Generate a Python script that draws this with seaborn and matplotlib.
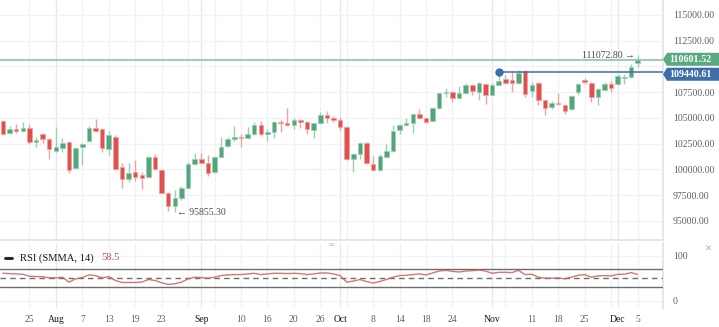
import matplotlib
matplotlib.use("Agg")
import numpy as np
import pandas as pd
import matplotlib.pyplot as plt
import seaborn as sns
from matplotlib.patches import Polygon
from matplotlib.lines import Line2D
from matplotlib.transforms import IdentityTransform

# ---- daily candles -------------------------------------------------------
opens = [104680, 103515, 103930, 103710, 104060, 102700, 103475, 102930, 101825, 102115,
         102670, 100145, 102155, 102735, 104060, 103930, 101960, 103185, 100215, 99075,
         99785, 99435, 99240, 101185, 99950, 97690, 96455, 97260, 98230, 100505,
         101050, 100660, 99725, 101240, 102250, 102960, 103185, 103030, 103475, 104320,
         103475, 103670, 104640, 104515, 104320, 104775, 104580, 103835, 104485, 105290,
         105030, 104775, 104095, 100990, 101535, 102570, 100560, 99950, 101240, 101795,
         103835, 104320, 104485, 105360, 105000, 104710, 106000, 107400, 107555, 106970,
         107400, 108205, 107555, 108330, 107230, 108205, 108785, 108690, 108370, 109560,
         107650, 108425, 106745, 106095, 106485, 106230, 105845, 107495, 108720, 108425,
         107065, 107720, 108270, 108270, 108910, 108950, 110310]
highs = [104805, 104225, 104415, 104610, 104415, 103155, 103545, 103060, 104095, 103060,
         102765, 102185, 102570, 104250, 104900, 104030, 103765, 103350, 100600, 100600,
         100920, 99785, 101310, 101535, 100050, 97815, 98010, 98395, 100725, 101570,
         101630, 101405, 101310, 103185, 103185, 104225, 103445, 104125, 104580, 104710,
         103960, 104660, 104835, 106000, 105030, 104855, 104660, 104560, 105555, 105680,
         105165, 105095, 104175, 101600, 102670, 102670, 101280, 101475, 102475, 104320,
         104415, 105030, 105435, 105875, 105095, 106095, 107475, 107885, 107620, 108105,
         108370, 108300, 108495, 108400, 108425, 109440.61, 109175, 109600, 109640, 109640,
         108465, 108495, 106795, 106650, 107455, 106360, 107230, 108350, 108910, 108495,
         107910, 108465, 108590, 109240, 109300, 110215, 111072.80]
lows = [103350, 103445, 103545, 103640, 102475, 102215, 102600, 101050, 101745, 101700,
        99630, 100050, 100465, 102670, 103640, 101670, 101435, 99950, 98230, 98815,
        98910, 98075, 99175, 99950, 97690, 96000, 95855.30, 97040, 98205, 100435,
        100580, 99395, 99660, 101165, 102185, 102765, 102215, 102960, 103395, 103280,
        102765, 103085, 103670, 104225, 103900, 104000, 103445, 103030, 104415, 104485,
        104580, 103835, 100890, 99785, 100990, 100535, 99900, 99900, 101165, 101745,
        103475, 104225, 103570, 104950, 104485, 104660, 105920, 107065, 106580, 106895,
        107330, 107260, 106745, 106360, 107185, 108155, 108300, 107495, 108300, 107065,
        107065, 106260, 105290, 105845, 106260, 105390, 105775, 107230, 108300, 106525,
        106260, 107670, 107555, 108205, 108270, 108885, 109980]
closes = [103445, 103930, 103735, 104060, 102700, 102865, 102960, 101990, 102155, 102570,
          99950, 102060, 102445, 104060, 103765, 102060, 103380, 100020, 99050, 99690,
          99270, 99175, 101185, 100050, 97745, 96455, 97260, 98230, 100505, 101050,
          100660, 99690, 101185, 102215, 102930, 103185, 103030, 103445, 104320, 103445,
          103610, 104580, 104545, 104320, 104775, 104640, 103900, 104485, 105290, 105030,
          104805, 104095, 100990, 101505, 102570, 100600, 99950, 101280, 101795, 103765,
          104320, 104485, 105360, 105030, 104610, 105940, 107400, 107555, 106970, 107400,
          108205, 107590, 108425, 107230, 108205, 108620, 108370, 108370, 109400, 107300,
          108205, 106745, 106000, 106485, 106330, 105680, 107165, 108270, 108465, 107065,
          107815, 108270, 107940, 109075, 109010, 109980, 110601.52]

# RSI (SMMA, 14) per candle
rsi = [60.9, 60.2, 59.5, 58.7, 54.4, 53.6, 53.6, 50.7, 50.7, 52.2,
       41.3, 48.5, 51.5, 57.3, 55.8, 50.7, 53.6, 44.9, 40.5, 40.5,
       40.5, 41.3, 47.1, 44.9, 39.8, 36.2, 37.6, 41.3, 48.5, 52.2,
       51.5, 50.0, 52.2, 55.8, 57.3, 58.0, 58.0, 59.5, 60.9, 58.0,
       59.5, 60.9, 60.9, 60.2, 60.9, 60.2, 58.0, 59.5, 61.6, 61.6,
       59.5, 55.8, 41.3, 43.5, 47.1, 42.7, 39.1, 42.7, 47.1, 52.2,
       55.8, 56.5, 58.0, 59.5, 57.3, 61.6, 66.0, 67.4, 65.3, 63.8,
       66.0, 66.7, 68.2, 66.0, 60.9, 63.1, 63.1, 62.4, 67.4, 58.0,
       58.7, 52.2, 50.0, 50.0, 50.7, 48.5, 52.2, 56.5, 58.0, 52.2,
       55.1, 55.8, 55.1, 58.7, 58.7, 62.4, 58.5]

# date axis: candle index of each labelled day, plus unlabelled grid days
tick_pos = [4, 8, 12, 16, 20, 24, 30, 36, 40, 44, 48, 51, 56, 60, 64, 68, 74, 80, 84, 88, 93, 96]
tick_labels = ["25", "Aug", "7", "13", "19", "23", "Sep", "10", "16", "20", "26", "Oct",
               "8", "14", "18", "24", "Nov", "11", "18", "25", "Dec", "5"]
month_names = ["Aug", "Sep", "Oct", "Nov", "Dec"]
extra_grid = [28, 32, 52, 76, 92]

price_grid = [95000, 97500, 100000, 102500, 105000, 107500, 110000, 112500, 115000]
hidden_price_labels = [110000]
rsi_ticks = [0, 100]
rsi_bands = [30, 50, 70]
rsi_name = "RSI (SMMA, 14)"

# ---- styling -----------------------------------------------------------------
UP, DOWN = "#53a57c", "#e0504d"
UP_LIGHT, DOWN_LIGHT = "#9dcfb4", "#efa3a1"
LAST_COLOR, HIGH_LINE = "#5aa981", "#3d6ea8"
GRID, GRID_MONTH = "#f0f2f5", "#e6e8ec"
TEXT_GRAY, TEXT_DARK = "#5f5f5f", "#131722"

sns.set_theme(style="white")
plt.rcParams["font.family"] = ["Liberation Serif", "DejaVu Sans"]

W, H, DPI = 719, 327, 100
fig = plt.figure(figsize=(W / DPI, H / DPI), dpi=DPI)
fig.patch.set_facecolor("white")


def rect(x0, y0, x1, y1):
    return [x0 / W, 1 - y1 / H, (x1 - x0) / W, (y1 - y0) / H]


ax = fig.add_axes(rect(0, 0, 663, 240))
axr = fig.add_axes(rect(0, 243, 663, 308), sharex=ax)

df = pd.DataFrame({"open": opens, "high": highs, "low": lows, "close": closes})
df["idx"] = np.arange(len(df))
up = df["close"] >= df["open"]

# wicks and bodies
ax.vlines(df["idx"], df["low"], df["high"],
          colors=np.where(up, UP_LIGHT, DOWN_LIGHT), linewidth=1.0, zorder=2)
body_low = df[["open", "close"]].min(axis=1)
body_h = (df["close"] - df["open"]).abs().clip(lower=70)
ax.bar(df["idx"], body_h, bottom=body_low, width=0.68,
       color=np.where(up, UP, DOWN), edgecolor=np.where(up, UP_LIGHT, DOWN_LIGHT),
       linewidth=0.6, zorder=3)

ax.set_xlim(-0.45, 99.85)
ax.set_ylim(93154, 116456)

# grid
month_pos = [tick_pos[tick_labels.index(m)] for m in month_names]
for x in tick_pos + extra_grid:
    for a in (ax, axr):
        a.axvline(x, color=GRID_MONTH if x in month_pos else GRID, lw=1, zorder=0)
for p in price_grid:
    ax.axhline(p, color=GRID, lw=1, zorder=0)

ax.yaxis.tick_right()
ax.set_yticks(price_grid)
ax.set_yticklabels(["" if p in hidden_price_labels else f"{p:.2f}" for p in price_grid])
ax.tick_params(axis="y", length=0, pad=7, labelsize=7.0, labelcolor=TEXT_GRAY)
ax.tick_params(axis="x", bottom=False, labelbottom=False)
for side in ("top", "left"):
    ax.spines[side].set_visible(False)
ax.spines["right"].set_color("#e0e3eb")
ax.spines["bottom"].set_color("#e0e3eb")

# last price line and the ray from the marked high
last_close = df["close"].iloc[-1]
ax.axhline(last_close, color="#7cc39e", lw=1.1, zorder=4)
ray_idx = 75
ray_val = df["high"].iloc[ray_idx]
ax.hlines(ray_val, ray_idx, ax.get_xlim()[1], color=HIGH_LINE, lw=1.1, zorder=4)
ax.plot([ray_idx], [ray_val], "o", color=HIGH_LINE, ms=5, zorder=5, clip_on=False)

# highest high / lowest low markers
hi_i = int(df["high"].idxmax())
lo_i = int(df["low"].idxmin())
ax.annotate(f"{df['high'].iloc[hi_i]:.2f} \u2192", xy=(hi_i, df["high"].iloc[hi_i]),
            xytext=(-3, 0), textcoords="offset pixels", ha="right", va="center",
            fontsize=7.0, color="#4a4a4a", zorder=6)
ax.annotate(f"\u2190 {df['low'].iloc[lo_i]:.2f}", xy=(lo_i, df["low"].iloc[lo_i]),
            xytext=(2, 0), textcoords="offset pixels", ha="left", va="center",
            fontsize=7.0, color="#4a4a4a", zorder=6)

# price tags on the right scale
ident = IdentityTransform()


def price_tag(value, color, dy):
    yc = ax.transData.transform((0, value))[1] + dy
    x0, x1, h = 663, 719, 6.5
    fig.add_artist(Polygon([(x0, yc), (x0 + 4, yc + h), (x1, yc + h), (x1, yc - h), (x0 + 4, yc - h)],
                           closed=True, facecolor=color, edgecolor="none", transform=ident))
    fig.text(690.5, yc, f"{value:.2f}", transform=ident, ha="center", va="center",
             fontsize=7.2, fontweight="bold", color="white")


price_tag(last_close, LAST_COLOR, 1)
price_tag(ray_val, HIGH_LINE, -2)

# ---- RSI pane ------------------------------------------------------------------
rsi_df = pd.DataFrame({"idx": np.arange(len(rsi)), "rsi": rsi})
sns.lineplot(data=rsi_df, x="idx", y="rsi", ax=axr, color="#c9605c", lw=1.0, alpha=0.85, zorder=4)
for b in rsi_bands:
    axr.axhline(b, color="#6e6e6e", lw=1.0, ls=(0, (4, 3)) if b == 50 else "-", zorder=3)
for t in rsi_ticks:
    axr.axhline(t, color=GRID, lw=1, zorder=0)
axr.set_ylim(-16.2, 128.2)
axr.set_xlim(-0.45, 99.85)
axr.set_xlabel("")
axr.set_ylabel("")
axr.yaxis.tick_right()
axr.set_yticks(rsi_ticks)
axr.set_yticklabels([str(t) for t in rsi_ticks])
axr.tick_params(axis="y", length=0, pad=7, labelsize=7.0, labelcolor=TEXT_GRAY)
axr.set_xticks(tick_pos)
axr.set_xticklabels(tick_labels)
axr.tick_params(axis="x", length=0, pad=5, labelsize=6.9)
for lab in axr.get_xticklabels():
    lab.set_color(TEXT_DARK if lab.get_text() in month_names else TEXT_GRAY)
for side in ("top", "left", "bottom"):
    axr.spines[side].set_visible(False)
axr.spines["right"].set_color("#e0e3eb")

# pane legend
fig.add_artist(Line2D([5, 12], [H - 258, H - 258], color="#131722", lw=2, transform=ident))
fig.text(20.5, H - 258, rsi_name, transform=ident, ha="left", va="center",
         fontsize=7.6, color=TEXT_DARK)
fig.text(101.5, H - 258, f"{rsi[-1]:.1f}", transform=ident, ha="left", va="center",
         fontsize=7.6, color="#c0504d")
fig.text(708, H - 250, "\u00d7", transform=ident, ha="center", va="center",
         fontsize=9, color="#9a9a9a")
fig.text(331, H - 244, "\u2261", transform=ident, ha="center", va="center",
         fontsize=6, color="#c8cbd2", family=["DejaVu Sans"])

fig.savefig("out.png", dpi=DPI, facecolor="white")
